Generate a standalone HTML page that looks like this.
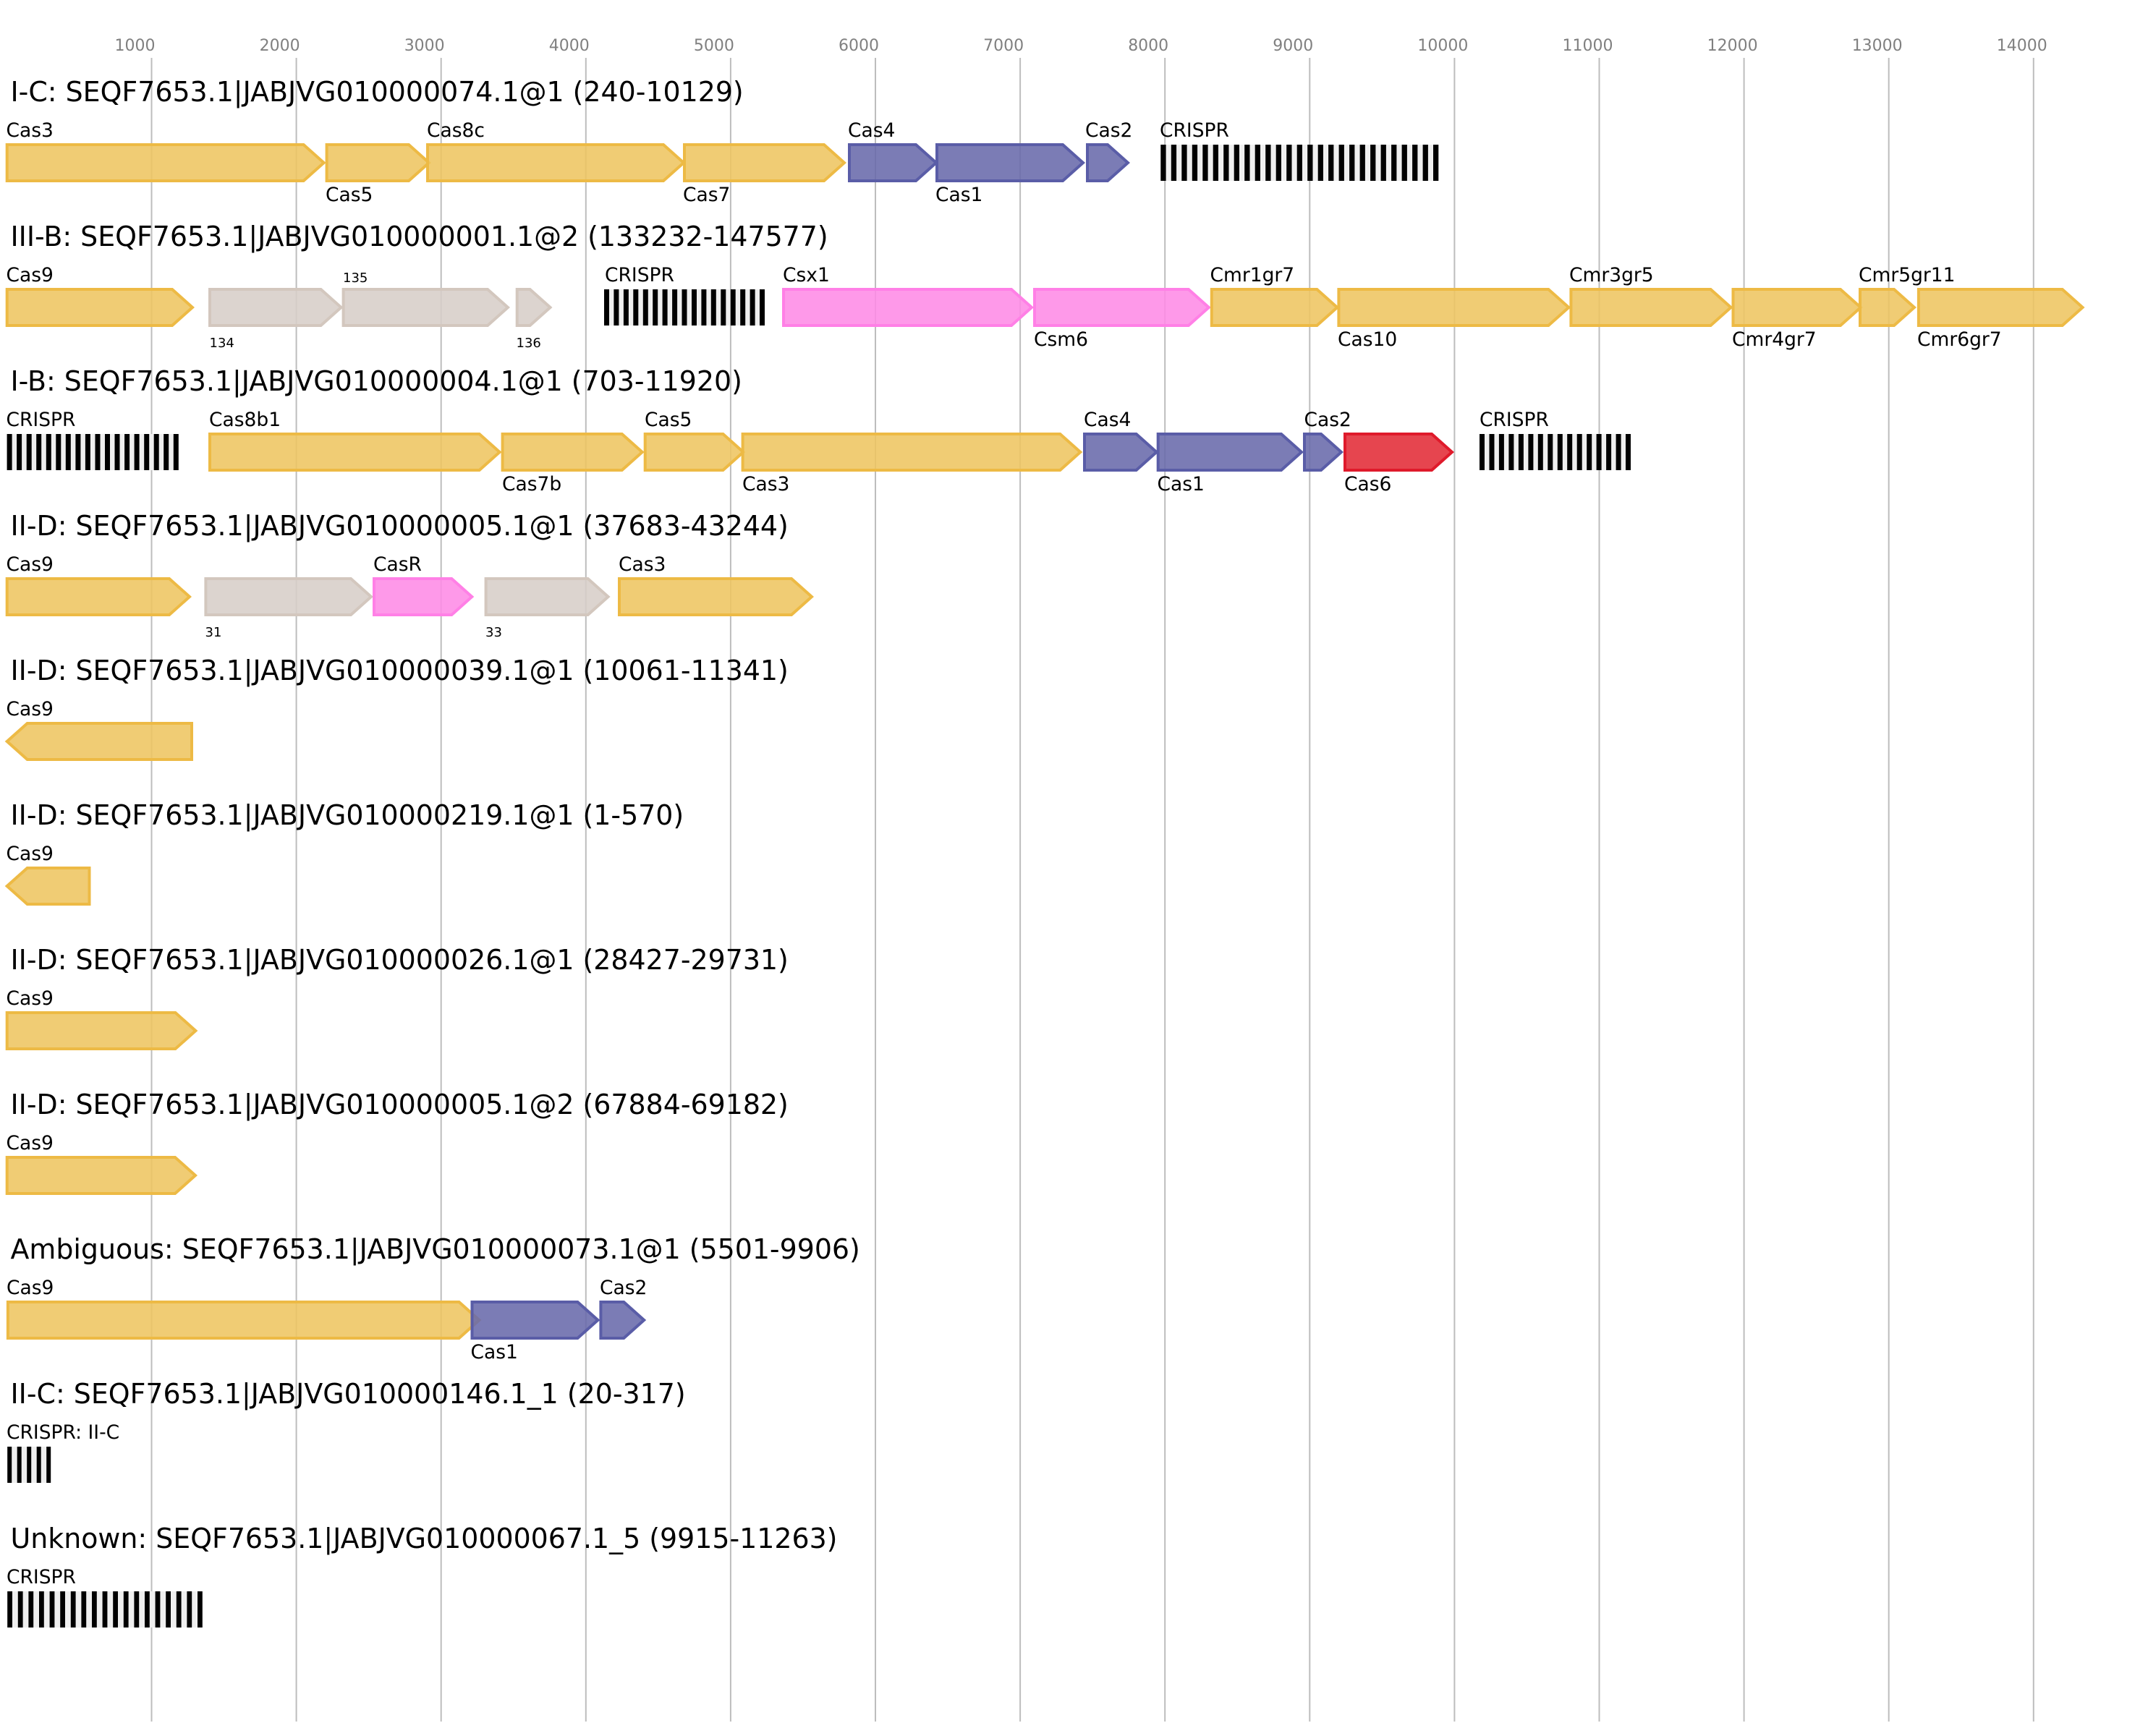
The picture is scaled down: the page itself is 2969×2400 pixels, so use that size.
<!DOCTYPE html>
<html><head><meta charset="utf-8"><style>
html,body{margin:0;padding:0;background:#fff;}
svg{display:block;}
text{font-family:"DejaVu Sans","Liberation Sans",sans-serif;}
.t{font-size:37.9px;fill:#000;}
.l{font-size:26.5px;fill:#000;}
.s{font-size:18px;fill:#000;}
.k{font-size:22px;fill:#808080;}
.Y{fill:#EEC561;fill-opacity:0.88;stroke:#EDBA45;stroke-width:4;}
.B{fill:#696AAB;fill-opacity:0.88;stroke:#5A5DA7;stroke-width:4;}
.P{fill:#FE8BE6;fill-opacity:0.88;stroke:#FF80E6;stroke-width:4;}
.G{fill:#D7CEC8;fill-opacity:0.88;stroke:#D3C7BE;stroke-width:4;}
.R{fill:#E22B37;fill-opacity:0.88;stroke:#DF1A2B;stroke-width:4;}
.cb{fill:#efefef;}
</style></head><body>
<svg width="2969" height="2400" viewBox="0 0 2969 2400" xmlns="http://www.w3.org/2000/svg">
<rect width="2969" height="2400" fill="#fff"/>
<!-- grid -->
<g stroke="#bdbdbd" stroke-width="2">
<line x1="209.5" y1="80" x2="209.5" y2="2380"/>
<line x1="409.6" y1="80" x2="409.6" y2="2380"/>
<line x1="609.7" y1="80" x2="609.7" y2="2380"/>
<line x1="809.8" y1="80" x2="809.8" y2="2380"/>
<line x1="1009.9" y1="80" x2="1009.9" y2="2380"/>
<line x1="1210" y1="80" x2="1210" y2="2380"/>
<line x1="1410.1" y1="80" x2="1410.1" y2="2380"/>
<line x1="1610.2" y1="80" x2="1610.2" y2="2380"/>
<line x1="1810.3" y1="80" x2="1810.3" y2="2380"/>
<line x1="2010.4" y1="80" x2="2010.4" y2="2380"/>
<line x1="2210.5" y1="80" x2="2210.5" y2="2380"/>
<line x1="2410.6" y1="80" x2="2410.6" y2="2380"/>
<line x1="2610.7" y1="80" x2="2610.7" y2="2380"/>
<line x1="2810.8" y1="80" x2="2810.8" y2="2380"/>
</g>
<g class="k">
<text x="158.5" y="70">1000</text>
<text x="358.6" y="70">2000</text>
<text x="558.7" y="70">3000</text>
<text x="758.8" y="70">4000</text>
<text x="958.9" y="70">5000</text>
<text x="1159" y="70">6000</text>
<text x="1359.1" y="70">7000</text>
<text x="1559.2" y="70">8000</text>
<text x="1759.3" y="70">9000</text>
<text x="1959.4" y="70">10000</text>
<text x="2159.5" y="70">11000</text>
<text x="2359.6" y="70">12000</text>
<text x="2559.7" y="70">13000</text>
<text x="2759.8" y="70">14000</text>
</g>

<!-- titles -->
<g class="t">
<text x="14.5" y="140">I-C: SEQF7653.1|JABJVG010000074.1@1 (240-10129)</text>
<text x="14.5" y="340">III-B: SEQF7653.1|JABJVG010000001.1@2 (133232-147577)</text>
<text x="14.5" y="540">I-B: SEQF7653.1|JABJVG010000004.1@1 (703-11920)</text>
<text x="14.5" y="740">II-D: SEQF7653.1|JABJVG010000005.1@1 (37683-43244)</text>
<text x="14.5" y="940">II-D: SEQF7653.1|JABJVG010000039.1@1 (10061-11341)</text>
<text x="14.5" y="1140">II-D: SEQF7653.1|JABJVG010000219.1@1 (1-570)</text>
<text x="14.5" y="1340">II-D: SEQF7653.1|JABJVG010000026.1@1 (28427-29731)</text>
<text x="14.5" y="1540">II-D: SEQF7653.1|JABJVG010000005.1@2 (67884-69182)</text>
<text x="14.5" y="1740">Ambiguous: SEQF7653.1|JABJVG010000073.1@1 (5501-9906)</text>
<text x="14.5" y="1940">II-C: SEQF7653.1|JABJVG010000146.1_1 (20-317)</text>
<text x="14.5" y="2140">Unknown: SEQF7653.1|JABJVG010000067.1_5 (9915-11263)</text>
</g>

<!-- Row 1 -->
<polygon class="Y" points="9.7,200 419.6,200 447.6,225 419.6,250 9.7,250"/>
<polygon class="Y" points="451.6,200 565,200 593,225 565,250 451.6,250"/>
<polygon class="Y" points="591,200 917,200 945,225 917,250 591,250"/>
<polygon class="Y" points="946,200 1139,200 1167,225 1139,250 946,250"/>
<polygon class="B" points="1174,200 1266,200 1294,225 1266,250 1174,250"/>
<polygon class="B" points="1295,200 1469,200 1497,225 1469,250 1295,250"/>
<polygon class="B" points="1503,200 1531,200 1559,225 1531,250 1503,250"/>
<rect class="cb" x="1604.3" y="200" width="384" height="50"/>
<g fill="#000">
<rect x="1604.3" y="200" width="7.3" height="50"/><rect x="1618.8" y="200" width="7.3" height="50"/><rect x="1633.3" y="200" width="7.3" height="50"/><rect x="1647.8" y="200" width="7.3" height="50"/><rect x="1662.3" y="200" width="7.3" height="50"/><rect x="1676.7" y="200" width="7.3" height="50"/><rect x="1691.2" y="200" width="7.3" height="50"/><rect x="1705.7" y="200" width="7.3" height="50"/><rect x="1720.2" y="200" width="7.3" height="50"/><rect x="1734.7" y="200" width="7.3" height="50"/><rect x="1749.2" y="200" width="7.3" height="50"/><rect x="1763.7" y="200" width="7.3" height="50"/><rect x="1778.2" y="200" width="7.3" height="50"/><rect x="1792.7" y="200" width="7.3" height="50"/><rect x="1807.2" y="200" width="7.3" height="50"/><rect x="1821.7" y="200" width="7.3" height="50"/><rect x="1836.1" y="200" width="7.3" height="50"/><rect x="1850.6" y="200" width="7.3" height="50"/><rect x="1865.1" y="200" width="7.3" height="50"/><rect x="1879.6" y="200" width="7.3" height="50"/><rect x="1894.1" y="200" width="7.3" height="50"/><rect x="1908.6" y="200" width="7.3" height="50"/><rect x="1923.1" y="200" width="7.3" height="50"/><rect x="1937.6" y="200" width="7.3" height="50"/><rect x="1952.1" y="200" width="7.3" height="50"/><rect x="1966.6" y="200" width="7.3" height="50"/><rect x="1981" y="200" width="7.3" height="50"/>
</g>
<g class="l">
<text x="8.5" y="189">Cas3</text>
<text x="450" y="278">Cas5</text>
<text x="590" y="189">Cas8c</text>
<text x="944" y="278">Cas7</text>
<text x="1172" y="189">Cas4</text>
<text x="1293" y="278">Cas1</text>
<text x="1500" y="189">Cas2</text>
<text x="1603" y="189">CRISPR</text>
</g>

<!-- Row 2 -->
<polygon class="Y" points="9.7,400 238,400 266,425 238,450 9.7,450"/>
<polygon class="G" points="290,400 443.5,400 471.5,425 443.5,450 290,450"/>
<polygon class="G" points="474.6,400 674,400 702,425 674,450 474.6,450"/>
<polygon class="G" points="714.7,400 732.5,400 760.5,425 732.5,450 714.7,450"/>
<rect class="cb" x="835" y="400" width="222" height="50"/>
<g fill="#000">
<rect x="835" y="400" width="7" height="50"/><rect x="848.4" y="400" width="7" height="50"/><rect x="861.9" y="400" width="7" height="50"/><rect x="875.3" y="400" width="7" height="50"/><rect x="888.8" y="400" width="7" height="50"/><rect x="902.2" y="400" width="7" height="50"/><rect x="915.6" y="400" width="7" height="50"/><rect x="929.1" y="400" width="7" height="50"/><rect x="942.5" y="400" width="7" height="50"/><rect x="956" y="400" width="7" height="50"/><rect x="969.4" y="400" width="7" height="50"/><rect x="982.8" y="400" width="7" height="50"/><rect x="996.3" y="400" width="7" height="50"/><rect x="1009.7" y="400" width="7" height="50"/><rect x="1023.2" y="400" width="7" height="50"/><rect x="1036.6" y="400" width="7" height="50"/><rect x="1050" y="400" width="7" height="50"/>
</g>
<polygon class="P" points="1083,400 1398,400 1426,425 1398,450 1083,450"/>
<polygon class="P" points="1430,400 1642.8,400 1670.8,425 1642.8,450 1430,450"/>
<polygon class="Y" points="1674.8,400 1820.3,400 1848.3,425 1820.3,450 1674.8,450"/>
<polygon class="Y" points="1850.4,400 2140.3,400 2168.3,425 2140.3,450 1850.4,450"/>
<polygon class="Y" points="2171.4,400 2364.5,400 2392.5,425 2364.5,450 2171.4,450"/>
<polygon class="Y" points="2395.5,400 2543.9,400 2571.9,425 2543.9,450 2395.5,450"/>
<polygon class="Y" points="2571,400 2618,400 2646,425 2618,450 2571,450"/>
<polygon class="Y" points="2651.9,400 2850.6,400 2878.6,425 2850.6,450 2651.9,450"/>
<g class="l">
<text x="8.5" y="389">Cas9</text>
<text x="836" y="389">CRISPR</text>
<text x="1082" y="389">Csx1</text>
<text x="1429" y="478">Csm6</text>
<text x="1672.5" y="389">Cmr1gr7</text>
<text x="1849" y="478">Cas10</text>
<text x="2169" y="389">Cmr3gr5</text>
<text x="2394" y="478">Cmr4gr7</text>
<text x="2569" y="389">Cmr5gr11</text>
<text x="2650" y="478">Cmr6gr7</text>
</g>
<g class="s">
<text x="289.5" y="480">134</text>
<text x="474" y="390">135</text>
<text x="713.5" y="480">136</text>
</g>

<!-- Row 3 -->
<rect class="cb" x="9.6" y="600" width="237.2" height="50"/>
<g fill="#000">
<rect x="9.6" y="600" width="7" height="50"/><rect x="23.1" y="600" width="7" height="50"/><rect x="36.7" y="600" width="7" height="50"/><rect x="50.2" y="600" width="7" height="50"/><rect x="63.8" y="600" width="7" height="50"/><rect x="77.3" y="600" width="7" height="50"/><rect x="90.8" y="600" width="7" height="50"/><rect x="104.4" y="600" width="7" height="50"/><rect x="117.9" y="600" width="7" height="50"/><rect x="131.5" y="600" width="7" height="50"/><rect x="145" y="600" width="7" height="50"/><rect x="158.5" y="600" width="7" height="50"/><rect x="172.1" y="600" width="7" height="50"/><rect x="185.6" y="600" width="7" height="50"/><rect x="199.2" y="600" width="7" height="50"/><rect x="212.7" y="600" width="7" height="50"/><rect x="226.2" y="600" width="7" height="50"/><rect x="239.8" y="600" width="7" height="50"/>
</g>
<polygon class="Y" points="290,600 662.6,600 690.6,625 662.6,650 290,650"/>
<polygon class="Y" points="694.6,600 859.7,600 887.7,625 859.7,650 694.6,650"/>
<polygon class="Y" points="891.7,600 999.4,600 1027.4,625 999.4,650 891.7,650"/>
<polygon class="Y" points="1026.6,600 1465.3,600 1493.3,625 1465.3,650 1026.6,650"/>
<polygon class="B" points="1499,600 1570.6,600 1598.6,625 1570.6,650 1499,650"/>
<polygon class="B" points="1600.7,600 1771,600 1799,625 1771,650 1600.7,650"/>
<polygon class="B" points="1803,600 1826,600 1854,625 1826,650 1803,650"/>
<polygon class="R" points="1859,600 1979,600 2007,625 1979,650 1859,650"/>
<rect class="cb" x="2045" y="600" width="209" height="50"/>
<g fill="#000">
<rect x="2045" y="600" width="7" height="50"/><rect x="2058.5" y="600" width="7" height="50"/><rect x="2071.9" y="600" width="7" height="50"/><rect x="2085.4" y="600" width="7" height="50"/><rect x="2098.9" y="600" width="7" height="50"/><rect x="2112.4" y="600" width="7" height="50"/><rect x="2125.8" y="600" width="7" height="50"/><rect x="2139.3" y="600" width="7" height="50"/><rect x="2152.8" y="600" width="7" height="50"/><rect x="2166.2" y="600" width="7" height="50"/><rect x="2179.7" y="600" width="7" height="50"/><rect x="2193.2" y="600" width="7" height="50"/><rect x="2206.6" y="600" width="7" height="50"/><rect x="2220.1" y="600" width="7" height="50"/><rect x="2233.6" y="600" width="7" height="50"/><rect x="2247" y="600" width="7" height="50"/>
</g>
<g class="l">
<text x="8.5" y="589">CRISPR</text>
<text x="289" y="589">Cas8b1</text>
<text x="694" y="678">Cas7b</text>
<text x="891" y="589">Cas5</text>
<text x="1026" y="678">Cas3</text>
<text x="1498" y="589">Cas4</text>
<text x="1599.5" y="678">Cas1</text>
<text x="1802.5" y="589">Cas2</text>
<text x="1858" y="678">Cas6</text>
<text x="2045" y="589">CRISPR</text>
</g>

<!-- Row 4 -->
<polygon class="Y" points="9.7,800 234,800 262,825 234,850 9.7,850"/>
<polygon class="G" points="284.4,800 485,800 513,825 485,850 284.4,850"/>
<polygon class="P" points="517,800 624.3,800 652.3,825 624.3,850 517,850"/>
<polygon class="G" points="671.6,800 812.6,800 840.6,825 812.6,850 671.6,850"/>
<polygon class="Y" points="856,800 1094,800 1122,825 1094,850 856,850"/>
<g class="l">
<text x="8.5" y="789">Cas9</text>
<text x="516" y="789">CasR</text>
<text x="855" y="789">Cas3</text>
</g>
<g class="s">
<text x="283.5" y="880">31</text>
<text x="671" y="880">33</text>
</g>

<!-- Row 5 -->
<polygon class="Y" points="9.7,1025 37.7,1000 265,1000 265,1050 37.7,1050"/>
<text class="l" x="8.5" y="989">Cas9</text>

<!-- Row 6 -->
<polygon class="Y" points="9.7,1225 37.7,1200 123.5,1200 123.5,1250 37.7,1250"/>
<text class="l" x="8.5" y="1189">Cas9</text>

<!-- Row 7 -->
<polygon class="Y" points="9.7,1400 242.4,1400 270.4,1425 242.4,1450 9.7,1450"/>
<text class="l" x="8.5" y="1389">Cas9</text>

<!-- Row 8 -->
<polygon class="Y" points="9.7,1600 242,1600 270,1625 242,1650 9.7,1650"/>
<text class="l" x="8.5" y="1589">Cas9</text>

<!-- Row 9 -->
<polygon class="Y" points="10.9,1800 634.5,1800 662.5,1825 634.5,1850 10.9,1850"/>
<polygon class="B" points="652.5,1800 798.4,1800 826.4,1825 798.4,1850 652.5,1850"/>
<polygon class="B" points="830.4,1800 862.2,1800 890.2,1825 862.2,1850 830.4,1850"/>
<g class="l">
<text x="9" y="1789">Cas9</text>
<text x="650.5" y="1878">Cas1</text>
<text x="829" y="1789">Cas2</text>
</g>

<!-- Row 10 -->
<rect class="cb" x="10.2" y="2000" width="60" height="50"/>
<g fill="#000">
<rect x="10.2" y="2000" width="6" height="50"/><rect x="23.7" y="2000" width="6" height="50"/><rect x="37.2" y="2000" width="6" height="50"/><rect x="50.7" y="2000" width="6" height="50"/><rect x="64.2" y="2000" width="6" height="50"/>
</g>
<text class="l" x="9" y="1989">CRISPR: II-C</text>

<!-- Row 11 -->
<rect class="cb" x="10.2" y="2200" width="269.6" height="50"/>
<g fill="#000">
<rect x="10.2" y="2200" width="6.8" height="50"/><rect x="24.8" y="2200" width="6.8" height="50"/><rect x="39.4" y="2200" width="6.8" height="50"/><rect x="54" y="2200" width="6.8" height="50"/><rect x="68.6" y="2200" width="6.8" height="50"/><rect x="83.2" y="2200" width="6.8" height="50"/><rect x="97.8" y="2200" width="6.8" height="50"/><rect x="112.4" y="2200" width="6.8" height="50"/><rect x="127" y="2200" width="6.8" height="50"/><rect x="141.6" y="2200" width="6.8" height="50"/><rect x="156.2" y="2200" width="6.8" height="50"/><rect x="170.8" y="2200" width="6.8" height="50"/><rect x="185.4" y="2200" width="6.8" height="50"/><rect x="200" y="2200" width="6.8" height="50"/><rect x="214.6" y="2200" width="6.8" height="50"/><rect x="229.2" y="2200" width="6.8" height="50"/><rect x="243.8" y="2200" width="6.8" height="50"/><rect x="258.4" y="2200" width="6.8" height="50"/><rect x="273" y="2200" width="6.8" height="50"/>
</g>
<text class="l" x="9" y="2189">CRISPR</text>
</svg>
</body></html>
